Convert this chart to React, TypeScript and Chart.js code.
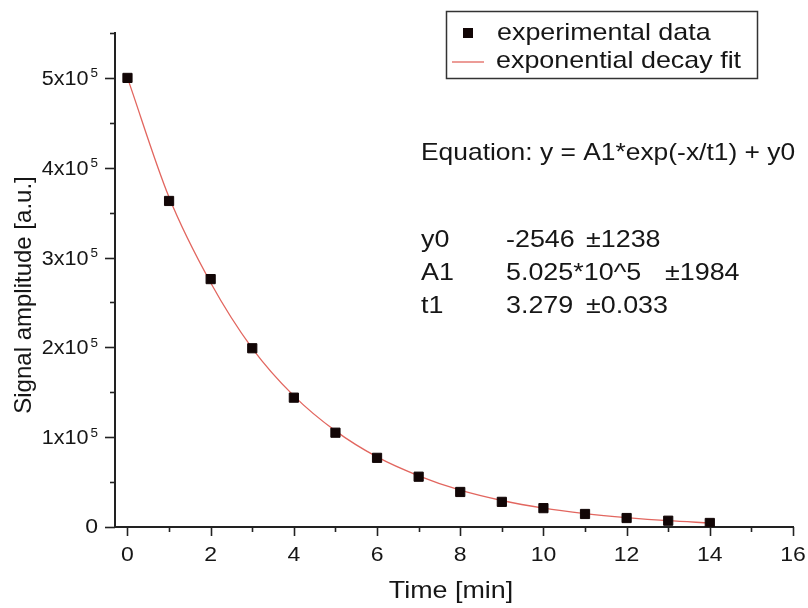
import React, { useEffect, useRef } from "react";
import { Chart, registerables } from "chart.js";

Chart.register(...registerables);

// ---- data ----
const timeMin = [0, 1, 2, 3, 4, 5, 6, 7, 8, 9, 10, 11, 12, 13, 14];
const experimentalData = [500000, 363000, 276000, 199000, 144000, 105000, 77000, 56000, 39000, 28000, 21000, 14500, 10000, 7000, 4500];
const fitCurve = [500000, 367000, 272000, 199000, 146000, 107000, 78000, 57000, 41000, 29500, 21000, 15000, 10500, 7000, 4500];

const xMajorTicks = [0, 2, 4, 6, 8, 10, 12, 14, 16];
const xMinorTicks = [1, 3, 5, 7, 9, 11, 13, 15];
const xTickLabels = ["0", "2", "4", "6", "8", "10", "12", "14", "16"];
const yMajorTicks = [0, 100000, 200000, 300000, 400000, 500000];
const yMinorTicks = [50000, 150000, 250000, 350000, 450000, 550000];
const yTickMantissa = ["0", "1x10", "2x10", "3x10", "4x10", "5x10"];
const yTickExponent = ["", "5", "5", "5", "5", "5"];

const xTitle = "Time [min]";
const yTitle = "Signal amplitude [a.u.]";
const legendLabels = ["experimental data", "exponential decay fit"];
const equationText = "Equation: y = A1*exp(-x/t1) + y0";
const paramNames = ["y0", "A1", "t1"];
const paramValues = ["-2546", "5.025*10^5", "3.279"];
const paramErrors = ["\u00b11238", "\u00b11984", "\u00b10.033"];

const FONT = '"Liberation Sans", Arial, Helvetica, sans-serif';
const SX = 1.12;
const TEXT = "#161616";
const AXIS = "#222222";
const FIT_COLOR = "#e2665f";
const PT_COLOR = "#120606";

function drawText(ctx: CanvasRenderingContext2D, s: string, x: number, y: number, size: number, align: "left" | "center" | "right" = "left", stretch = SX) {
  ctx.save();
  ctx.font = `${size}px ${FONT}`;
  ctx.textBaseline = "alphabetic";
  ctx.textAlign = "left";
  const w = ctx.measureText(s).width * stretch;
  const x0 = align === "left" ? x : align === "center" ? x - w / 2 : x - w;
  ctx.translate(x0, y);
  ctx.scale(stretch, 1);
  ctx.fillStyle = TEXT;
  ctx.fillText(s, 0, 0);
  ctx.restore();
  return w;
}

const decorPlugin = {
  id: "decor",
  afterDraw(chart: any) {
    const ctx: CanvasRenderingContext2D = chart.ctx;
    const xs = chart.scales.x;
    const ys = chart.scales.y;
    const area = chart.chartArea;
    ctx.save();
    ctx.strokeStyle = AXIS;
    ctx.lineWidth = 1.6;
    const b = area.bottom;
    xMajorTicks.forEach((v) => {
      const px = Math.round(xs.getPixelForValue(v)) + 0.5;
      ctx.beginPath(); ctx.moveTo(px, b); ctx.lineTo(px, b + 9); ctx.stroke();
    });
    xMinorTicks.forEach((v) => {
      const px = Math.round(xs.getPixelForValue(v)) + 0.5;
      ctx.beginPath(); ctx.moveTo(px, b); ctx.lineTo(px, b + 5); ctx.stroke();
    });
    const l = area.left;
    yMajorTicks.forEach((v) => {
      const py = Math.round(ys.getPixelForValue(v)) + 0.5;
      ctx.beginPath(); ctx.moveTo(l, py); ctx.lineTo(l - 10, py); ctx.stroke();
    });
    yMinorTicks.forEach((v) => {
      const py = Math.round(ys.getPixelForValue(v)) + 0.5;
      ctx.beginPath(); ctx.moveTo(l, py); ctx.lineTo(l - 5, py); ctx.stroke();
    });
    ctx.restore();

    // x tick labels
    xMajorTicks.forEach((v, i) => {
      drawText(ctx, xTickLabels[i], xs.getPixelForValue(v), 561, 20, "center", 1.15);
    });
    // y tick labels with superscript exponent
    yMajorTicks.forEach((v, i) => {
      const py = ys.getPixelForValue(v);
      const right = 98;
      if (!yTickExponent[i]) {
        drawText(ctx, yTickMantissa[i], right, py + 6, 20, "right", 1.15);
      } else {
        ctx.save();
        ctx.font = `12px ${FONT}`;
        const supW = ctx.measureText(yTickExponent[i]).width * SX;
        ctx.restore();
        drawText(ctx, yTickExponent[i], right - supW, py - 0.5, 12, "left");
        drawText(ctx, yTickMantissa[i], right - supW - 2, py + 7, 20, "right", 1.08);
      }
    });

    // axis titles
    drawText(ctx, xTitle, (area.left + area.right) / 2 - 3, 598, 24, "center");
    ctx.save();
    ctx.translate(31, 295);
    ctx.rotate(-Math.PI / 2);
    drawText(ctx, yTitle, 0, 0, 24, "center", 1.0);
    ctx.restore();

    // legend box
    ctx.save();
    ctx.strokeStyle = "#333";
    ctx.lineWidth = 1.5;
    ctx.strokeRect(446.5, 11.5, 311, 67);
    ctx.fillStyle = PT_COLOR;
    ctx.fillRect(463, 28, 10, 10);
    ctx.strokeStyle = FIT_COLOR;
    ctx.lineWidth = 1.3;
    ctx.beginPath(); ctx.moveTo(452, 62); ctx.lineTo(484, 62); ctx.stroke();
    ctx.restore();
    drawText(ctx, legendLabels[0], 497, 40, 24, "left");
    drawText(ctx, legendLabels[1], 496, 68, 24, "left");

    // equation & parameters
    drawText(ctx, equationText, 421, 160, 24, "left", 1.1);
    const baselines = [247, 280, 313];
    const errX = [586, 665, 586];
    paramNames.forEach((n, i) => {
      drawText(ctx, n, 421, baselines[i], 24, "left");
      drawText(ctx, paramValues[i], 506, baselines[i], 24, "left");
      drawText(ctx, paramErrors[i], errX[i], baselines[i], 24, "left");
    });
  },
};

export default function App() {
  const ref = useRef<HTMLCanvasElement>(null);
  useEffect(() => {
    if (!ref.current) return;
    const chart = new Chart(ref.current, {
      type: "scatter",
      data: {
        datasets: [
          {
            label: legendLabels[0],
            data: timeMin.map((t, i) => ({ x: t, y: experimentalData[i] })),
            pointStyle: "rect",
            pointRadius: 6.5,
            pointBackgroundColor: PT_COLOR,
            pointBorderColor: PT_COLOR,
            pointBorderWidth: 1,
            showLine: false,
            order: 0,
          },
          {
            label: legendLabels[1],
            data: timeMin.map((t, i) => ({ x: t, y: fitCurve[i] })),
            showLine: true,
            borderColor: FIT_COLOR,
            borderWidth: 1.3,
            pointRadius: 0,
            cubicInterpolationMode: "monotone",
            fill: false,
            order: 1,
          },
        ],
      },
      options: {
        responsive: false,
        animation: false,
        events: [],
        layout: { padding: { left: 0, top: 33, right: 15, bottom: 0 } },
        plugins: { legend: { display: false }, tooltip: { enabled: false }, title: { display: false } },
        scales: {
          x: {
            type: "linear",
            min: -0.3,
            max: 16,
            ticks: { display: false, stepSize: 2, includeBounds: false },
            grid: { display: true, drawOnChartArea: false, drawTicks: false },
            border: { display: true, color: AXIS, width: 2 },
            afterFit: (s: any) => { s.height = 81; },
          },
          y: {
            type: "linear",
            min: 0,
            max: 550000,
            ticks: { display: false, stepSize: 100000, includeBounds: false },
            grid: { display: true, drawOnChartArea: false, drawTicks: false },
            border: { display: true, color: AXIS, width: 2 },
            afterFit: (s: any) => { s.width = 115; },
          },
        },
      },
      plugins: [decorPlugin],
    });
    return () => chart.destroy();
  }, []);
  return (
    <div style={{ position: "fixed", left: 0, top: 0, width: 808, height: 608, background: "#fff" }}>
      <canvas ref={ref} width={808} height={608} style={{ display: "block" }} />
    </div>
  );
}
